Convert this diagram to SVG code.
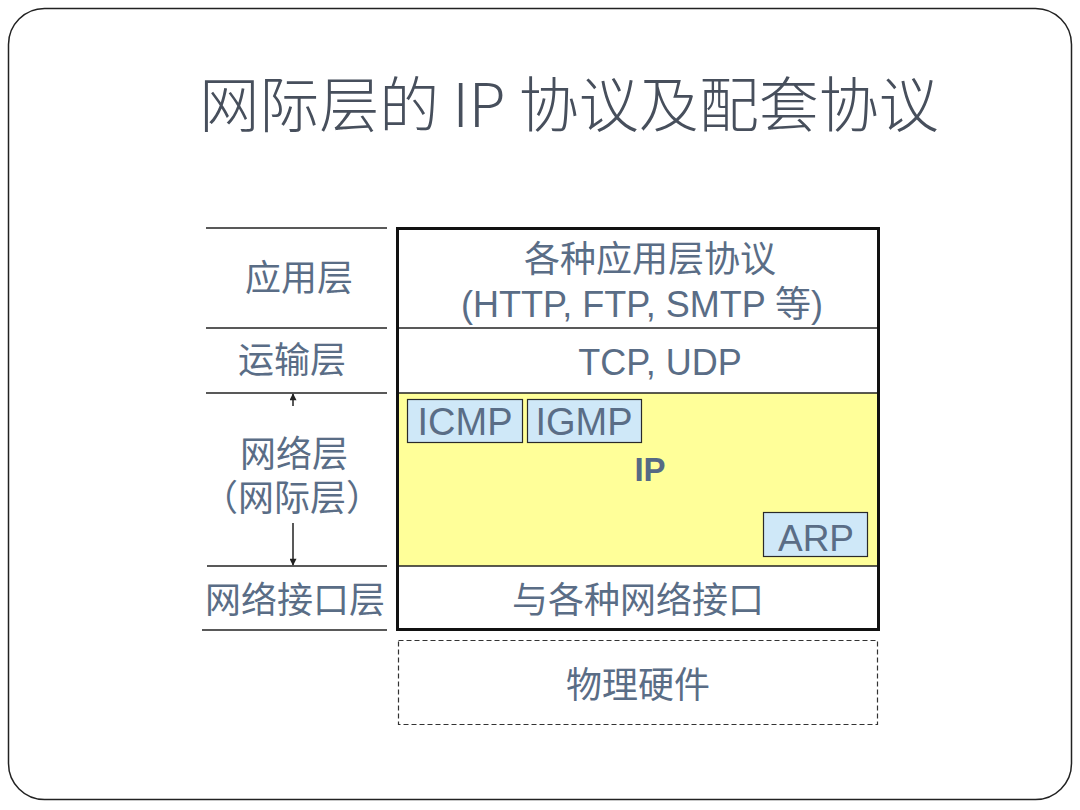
<svg xmlns="http://www.w3.org/2000/svg" width="1080" height="810" viewBox="0 0 1080 810">
<style>
.t{font-family:"Liberation Sans","Noto Sans CJK SC",sans-serif;fill:#5a6d86;font-size:36px;text-anchor:middle}
.title{font-family:"Noto Sans CJK SC","Liberation Sans",sans-serif;fill:#474f5c;font-size:60px;font-weight:300;text-anchor:middle}
.sub{fill:#cfe8f8;stroke:#2a2a2a;stroke-width:1.2}
.ln{stroke:#222;stroke-width:1.5;fill:none}
</style>
<defs>
<marker id="ah" viewBox="0 0 10 10" refX="9" refY="5" markerWidth="9" markerHeight="7" orient="auto" markerUnits="userSpaceOnUse">
<path d="M0,0 L10,5 L0,10 z" fill="#222"/>
</marker>
</defs>
<rect x="8.5" y="8.5" width="1063" height="791" rx="36" ry="36" fill="#fff" stroke="#222" stroke-width="1.5"/>
<text class="title" x="569" y="127">网际层的 IP 协议及配套协议</text>

<g id="left-labels">
<line class="ln" x1="206" y1="228" x2="387" y2="228"/>
<line class="ln" x1="206" y1="328" x2="387" y2="328"/>
<line class="ln" x1="206" y1="393" x2="387" y2="393"/>
<line class="ln" x1="207" y1="566" x2="387" y2="566"/>
<line class="ln" x1="202" y1="630" x2="387" y2="630"/>
<text class="t" x="299" y="291">应用层</text>
<text class="t" x="292" y="373">运输层</text>
<text class="t" x="294" y="467">网络层</text>
<text class="t" x="292" y="511">（网际层）</text>
<text class="t" x="295" y="613">网络接口层</text>
</g>

<g id="connectors">
<line class="ln" x1="293" y1="406" x2="293" y2="394" marker-end="url(#ah)"/>
<line class="ln" x1="293" y1="523" x2="293" y2="565" marker-end="url(#ah)"/>
</g>

<g id="stack">
<rect x="397" y="393" width="482" height="173" fill="#ffff99"/>
<line class="ln" x1="397" y1="328" x2="879" y2="328"/>
<line class="ln" x1="397" y1="393" x2="879" y2="393"/>
<line class="ln" x1="397" y1="566" x2="879" y2="566"/>
<rect x="397.5" y="228.5" width="481" height="401" fill="none" stroke="#111" stroke-width="3"/>
<text class="t" x="650" y="272">各种应用层协议</text>
<text class="t" x="642" y="317">(HTTP, FTP, SMTP 等)</text>
<text class="t" x="660" y="375">TCP, UDP</text>
<text class="t" x="650" y="481" style="font-weight:bold;font-size:33px;fill:#566a84">IP</text>
<text class="t" x="638" y="613">与各种网络接口</text>
</g>

<g id="icmp">
<rect class="sub" x="407.5" y="399.5" width="115" height="43"/>
<text class="t" x="465" y="435" style="font-size:38px">ICMP</text>
</g>
<g id="igmp">
<rect class="sub" x="527.5" y="399.5" width="114" height="43"/>
<text class="t" x="584" y="435" style="font-size:38px">IGMP</text>
</g>
<g id="arp">
<rect class="sub" x="763.5" y="512.5" width="104" height="44"/>
<text class="t" x="816" y="551" style="font-size:37px">ARP</text>
</g>

<g id="hardware">
<rect x="398.5" y="640.5" width="479" height="84" fill="none" stroke="#333" stroke-width="1.2" stroke-dasharray="5,3"/>
<text class="t" x="638" y="698">物理硬件</text>
</g>
</svg>
